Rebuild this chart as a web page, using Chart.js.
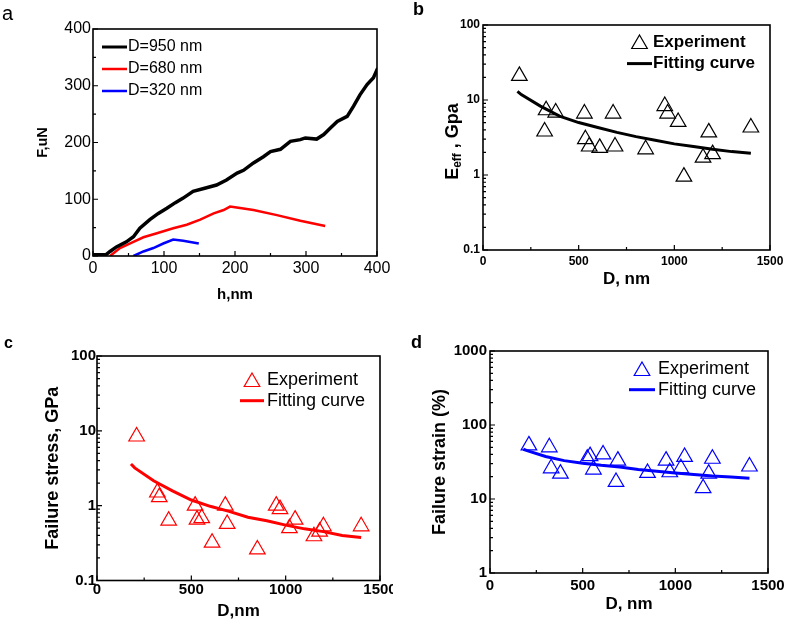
<!DOCTYPE html>
<html>
<head>
<meta charset="utf-8">
<title>Nanowire mechanics</title>
<script src="https://cdn.jsdelivr.net/npm/chart.js@4.4.0/dist/chart.umd.min.js"></script>
<style>
    body { margin: 0; background: #fff; }
    .figure { position: relative; width: 787px; height: 625px; overflow: hidden; font-family: 'Liberation Sans', Arial, sans-serif; }
    .figure canvas { position: absolute; }
    .panel-label { position: absolute; line-height: 1; color: #000; }
</style>
</head>
<body>
<div class="figure">
    <canvas id="chartA" width="393" height="310" style="left:0;top:0"></canvas>
    <canvas id="chartB" width="394" height="310" style="left:393px;top:0"></canvas>
    <canvas id="chartC" width="393" height="315" style="left:0;top:310px"></canvas>
    <canvas id="chartD" width="394" height="315" style="left:393px;top:310px"></canvas>
    <div class="panel-label" style="left:2px;top:3px;font-size:20px">a</div>
    <div class="panel-label" style="left:413px;top:0;font-size:18px;font-weight:bold">b</div>
    <div class="panel-label" style="left:4px;top:335px;font-size:16px;font-weight:bold">c</div>
    <div class="panel-label" style="left:411px;top:333px;font-size:18px;font-weight:bold">d</div>
</div>
<script>
const FONT = "'Liberation Sans', Arial, sans-serif";

// a: load vs displacement
const hD950 = [0, 18, 24, 33, 47, 57, 66, 80, 92, 104, 116, 127, 141, 156, 174, 188, 203, 212, 226, 240, 250, 264, 278, 292, 299, 315, 325, 334, 344, 358, 367, 376, 386, 395, 401];
const fD950 = [2, 2, 8, 16, 25, 34, 49, 64, 75, 84, 94, 102, 114, 119, 125, 134, 146, 151, 164, 175, 184, 188, 202, 205, 208, 206, 214, 225, 237, 246, 264, 284, 302, 314, 331];
const hD680 = [24, 38, 57, 71, 90, 113, 132, 151, 170, 184, 193, 200, 226, 259, 292, 327];
const fD680 = [0, 14, 25, 33, 40, 49, 55, 64, 75, 81, 87, 86, 81, 72, 62, 53];
const hD320 = [57, 71, 85, 99, 113, 127, 149];
const fD320 = [0, 8, 14, 22, 29, 27, 22];
const hTicks = [0, 100, 200, 300, 400];
const fTicks = [0, 100, 200, 300, 400];

// b: effective modulus
const bD = [190, 330, 322, 380, 530, 535, 555, 610, 680, 690, 850, 950, 965, 1020, 1050, 1150, 1180, 1200, 1400];
const bE = [21, 7.3, 3.8, 6.8, 6.6, 3.0, 2.4, 2.3, 6.6, 2.4, 2.2, 8.3, 6.6, 5.1, 0.95, 1.7, 3.7, 1.9, 4.3];
const fitD = [180, 200, 300, 400, 500, 600, 700, 800, 900, 1000, 1100, 1200, 1300, 1400];
const bFitE = [13, 11.8, 8.3, 6.1, 5.0, 4.3, 3.7, 3.25, 2.9, 2.6, 2.4, 2.2, 2.05, 1.95];

// c: failure stress
const cD = [210, 320, 330, 380, 520, 530, 555, 610, 680, 690, 850, 950, 970, 1020, 1050, 1150, 1180, 1200, 1400];
const cStress = [8.4, 1.5, 1.3, 0.63, 1.0, 0.65, 0.68, 0.32, 1.0, 0.57, 0.26, 1.0, 0.9, 0.5, 0.65, 0.39, 0.45, 0.53, 0.53];
const cFitStress = [3.6, 3.2, 2.15, 1.58, 1.19, 0.98, 0.84, 0.70, 0.63, 0.55, 0.49, 0.45, 0.40, 0.375];

// d: failure strain
const dD = [210, 320, 330, 380, 525, 540, 558, 610, 680, 690, 850, 950, 970, 1030, 1050, 1150, 1180, 1200, 1400];
const dStrain = [53, 50, 26, 22, 35, 38, 25, 40, 17, 33, 22.5, 33, 23, 26, 37, 14, 22, 35, 27.5];
const dFitStrain = [47, 45, 37.5, 33, 30.5, 28.5, 27, 25, 23.8, 22.5, 21.5, 20.5, 19.8, 19.1];

const dTicks = [0, 500, 1000, 1500];
const bTicks = [0.1, 1, 10, 100];
const cTicks = [0.1, 1, 10, 100];
const strainTicks = [1, 10, 100, 1000];

function toPoints(xs, ys) {
    return xs.map((x, i) => ({ x: x, y: ys[i] }));
}

// box around plot + inward major/minor ticks on left and bottom
const boxTicks = {
    id: 'boxTicks',
    afterDraw(chart) {
        const ctx = chart.ctx;
        const a = chart.chartArea;
        const xs = chart.scales.x;
        const ys = chart.scales.y;
        ctx.save();
        ctx.strokeStyle = '#000';
        ctx.lineWidth = 1.6;
        ctx.strokeRect(a.left, a.top, a.right - a.left, a.bottom - a.top);
        ctx.lineWidth = 1.2;
        ctx.beginPath();
        const tx = tickValues(xs);
        tx.major.forEach(v => { const p = xs.getPixelForValue(v); ctx.moveTo(p, a.bottom); ctx.lineTo(p, a.bottom - 5); });
        tx.minor.forEach(v => { const p = xs.getPixelForValue(v); ctx.moveTo(p, a.bottom); ctx.lineTo(p, a.bottom - 3); });
        const ty = tickValues(ys);
        ty.major.forEach(v => { const p = ys.getPixelForValue(v); ctx.moveTo(a.left, p); ctx.lineTo(a.left + 5, p); });
        ty.minor.forEach(v => { const p = ys.getPixelForValue(v); ctx.moveTo(a.left, p); ctx.lineTo(a.left + 3, p); });
        ctx.stroke();
        ctx.restore();
    }
};

function tickValues(scale) {
    const major = scale.ticks.map(t => t.value);
    const minor = [];
    for (let i = 0; i < major.length - 1; i++) {
        if (scale.type === 'logarithmic') {
            for (let k = 2; k <= 9; k++) minor.push(major[i] * k);
        } else {
            minor.push((major[i] + major[i + 1]) / 2);
        }
    }
    return { major: major, minor: minor };
}

// legend drawn inside the plot area
const insideLegend = {
    id: 'insideLegend',
    afterDraw(chart, args, opts) {
        const ctx = chart.ctx;
        ctx.save();
        ctx.textBaseline = 'middle';
        chart.data.datasets.forEach((ds, i) => {
            const y = opts.y + i * opts.gap;
            if (ds.showLine) {
                ctx.strokeStyle = ds.borderColor;
                ctx.lineWidth = Math.min(ds.borderWidth, 3);
                ctx.beginPath();
                ctx.moveTo(opts.x0, y);
                ctx.lineTo(opts.x1, y);
                ctx.stroke();
            } else {
                ctx.strokeStyle = ds.pointBorderColor;
                ctx.fillStyle = 'rgba(0,0,0,0)';
                ctx.lineWidth = ds.pointBorderWidth;
                Chart.helpers.drawPoint(ctx, { pointStyle: ds.pointStyle, radius: ds.pointRadius, rotation: 0, borderWidth: ds.pointBorderWidth }, (opts.x0 + opts.x1) / 2, y + 2);
            }
            ctx.fillStyle = '#000';
            ctx.font = opts.font;
            ctx.fillText(ds.label, opts.tx, y);
        });
        ctx.restore();
    }
};

// y title with subscript for panel b
const effTitle = {
    id: 'effTitle',
    afterDraw(chart, args, opts) {
        if (!opts.x) return;
        const ctx = chart.ctx;
        const a = chart.chartArea;
        const parts = [
            { text: 'E', font: 'bold 18px ' + FONT, dy: 0 },
            { text: 'eff', font: 'bold 12px ' + FONT, dy: 5 },
            { text: ' , Gpa', font: 'bold 18px ' + FONT, dy: 0 }
        ];
        ctx.save();
        ctx.translate(opts.x, (a.top + a.bottom) / 2 + opts.dy);
        ctx.rotate(-Math.PI / 2);
        ctx.fillStyle = '#000';
        ctx.textBaseline = 'middle';
        let total = 0;
        parts.forEach(p => { ctx.font = p.font; p.w = ctx.measureText(p.text).width; total += p.w; });
        let x = -total / 2;
        parts.forEach(p => { ctx.font = p.font; ctx.fillText(p.text, x, p.dy); x += p.w; });
        ctx.restore();
    }
};

function axis(cfg) {
    return {
        type: cfg.type || 'linear',
        min: cfg.ticks[0],
        max: cfg.ticks[cfg.ticks.length - 1],
        afterBuildTicks: s => { s.ticks = cfg.ticks.map(v => ({ value: v })); },
        afterFit: s => {
            if (cfg.width !== undefined) s.width = cfg.width;
            if (cfg.height !== undefined) s.height = cfg.height;
            s.paddingLeft = s.paddingRight = s.paddingTop = s.paddingBottom = 0;
        },
        ticks: {
            callback: v => String(v),
            padding: cfg.tickPad,
            font: { family: FONT, size: cfg.tickSize, weight: cfg.tickWeight },
            color: '#000',
            maxRotation: 0,
            autoSkip: false
        },
        grid: { display: false, drawTicks: false },
        border: { display: false },
        title: {
            display: !!cfg.title,
            text: cfg.title,
            color: '#000',
            padding: 0,
            font: { family: FONT, size: cfg.titleSize, weight: 'bold' }
        }
    };
}

function options(pad, xAxis, yAxis, legend, eff) {
    return {
        responsive: false,
        animation: false,
        devicePixelRatio: 1,
        events: [],
        layout: { padding: pad },
        plugins: {
            legend: { display: false },
            tooltip: { enabled: false },
            insideLegend: legend,
            effTitle: eff || {}
        },
        scales: { x: xAxis, y: yAxis }
    };
}

function expSet(xs, ys, color) {
    return {
        label: 'Experiment',
        data: toPoints(xs, ys),
        showLine: false,
        pointStyle: 'triangle',
        pointRadius: 9,
        pointBorderWidth: 1.2,
        pointBorderColor: color,
        pointBackgroundColor: 'rgba(0,0,0,0)',
        borderColor: color
    };
}

function fitSet(xs, ys, color) {
    return {
        label: 'Fitting curve',
        data: toPoints(xs, ys),
        showLine: true,
        pointRadius: 0,
        borderColor: color,
        borderWidth: 3,
        tension: 0
    };
}

function lineSet(label, xs, ys, color, width) {
    return { label: label, data: toPoints(xs, ys), showLine: true, pointRadius: 0, borderColor: color, borderWidth: width };
}

function createPanelA() {
    new Chart(document.getElementById('chartA'), {
        type: 'scatter',
        data: {
            datasets: [
                lineSet('D=950 nm', hD950, fD950, '#000000', 3.5),
                lineSet('D=680 nm', hD680, fD680, '#ff0000', 2.5),
                lineSet('D=320 nm', hD320, fD320, '#0000ff', 2.5)
            ]
        },
        options: options(
            { left: 34, right: 16, top: 29, bottom: 6 },
            axis({ ticks: hTicks, height: 48, tickPad: 3, tickSize: 16, tickWeight: 'normal', title: 'h,nm', titleSize: 15 }),
            axis({ ticks: fTicks, width: 59, tickPad: 2, tickSize: 16, tickWeight: 'normal', title: 'F,uN', titleSize: 14.5 }),
            { x0: 102, x1: 127, tx: 128, y: 47, gap: 22, font: '16px ' + FONT }
        ),
        plugins: [boxTicks, insideLegend]
    });
}

function createPanelB() {
    new Chart(document.getElementById('chartB'), {
        type: 'scatter',
        data: { datasets: [expSet(bD, bE, '#000000'), fitSet(fitD, bFitE, '#000000')] },
        options: options(
            { left: 0, right: 17, top: 25, bottom: 20 },
            axis({ ticks: dTicks, height: 40, tickPad: 4, tickSize: 12, tickWeight: 'bold', title: 'D, nm', titleSize: 17 }),
            axis({ type: 'logarithmic', ticks: bTicks, width: 90, tickPad: 3, tickSize: 12, tickWeight: 'bold' }),
            { x0: 234, x1: 259, tx: 260, y: 42, gap: 21.6, font: 'bold 17px ' + FONT },
            { x: 60, dy: 4 }
        ),
        plugins: [boxTicks, insideLegend, effTitle]
    });
}

function createPanelC() {
    new Chart(document.getElementById('chartC'), {
        type: 'scatter',
        data: { datasets: [expSet(cD, cStress, '#ff0000'), fitSet(fitD, cFitStress, '#ff0000')] },
        options: options(
            { left: 42, right: 13, top: 46, bottom: 3 },
            axis({ ticks: dTicks, height: 41.5, tickPad: 0, tickSize: 15, tickWeight: 'bold', title: 'D,nm', titleSize: 17 }),
            axis({ type: 'logarithmic', ticks: cTicks, width: 55, tickPad: 1, tickSize: 15, tickWeight: 'bold', title: 'Failure stress, GPa', titleSize: 18 }),
            { x0: 240, x1: 264, tx: 267, y: 70, gap: 20.7, font: '18px ' + FONT }
        ),
        plugins: [boxTicks, insideLegend]
    });
}

function createPanelD() {
    new Chart(document.getElementById('chartD'), {
        type: 'scatter',
        data: { datasets: [expSet(dD, dStrain, '#0000ff'), fitSet(fitD, dFitStrain, '#0000ff')] },
        options: options(
            { left: 36, right: 19, top: 41, bottom: 10 },
            axis({ ticks: dTicks, height: 42, tickPad: 4, tickSize: 15, tickWeight: 'bold', title: 'D, nm', titleSize: 17 }),
            axis({ type: 'logarithmic', ticks: strainTicks, width: 61, tickPad: 3, tickSize: 15, tickWeight: 'bold', title: 'Failure strain (%)', titleSize: 18 }),
            { x0: 236, x1: 262, tx: 265, y: 59, gap: 20.7, font: '18px ' + FONT }
        ),
        plugins: [boxTicks, insideLegend]
    });
}

document.addEventListener('DOMContentLoaded', function() {
    createPanelA();
    createPanelB();
    createPanelC();
    createPanelD();
});
</script>
</body>
</html>
